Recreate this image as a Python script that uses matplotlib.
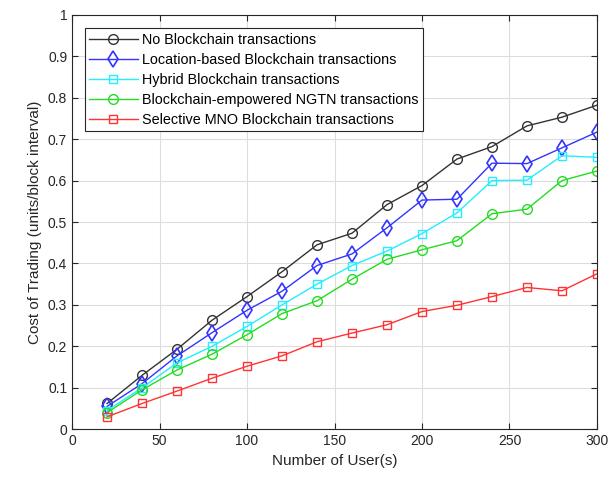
import matplotlib
matplotlib.use("Agg")
import matplotlib.pyplot as plt

plt.rcParams['font.family'] = ['Liberation Sans', 'DejaVu Sans']

users = [20, 40, 60, 80, 100, 120, 140, 160, 180, 200, 220, 240, 260, 280, 300]
no_bc = [0.062, 0.130, 0.193, 0.263, 0.320, 0.380, 0.445, 0.473, 0.542, 0.588,
         0.652, 0.682, 0.732, 0.753, 0.782]
location_bc = [0.055, 0.110, 0.177, 0.233, 0.287, 0.333, 0.395, 0.423, 0.486, 0.553,
               0.555, 0.642, 0.641, 0.679, 0.717]
hybrid_bc = [0.045, 0.100, 0.160, 0.200, 0.248, 0.300, 0.350, 0.395, 0.430, 0.472,
             0.522, 0.600, 0.601, 0.660, 0.656]
ngtn_bc = [0.040, 0.095, 0.143, 0.181, 0.228, 0.279, 0.310, 0.362, 0.410, 0.433,
           0.455, 0.520, 0.531, 0.600, 0.623]
mno_bc = [0.030, 0.062, 0.092, 0.123, 0.152, 0.177, 0.211, 0.232, 0.252, 0.284,
          0.299, 0.320, 0.342, 0.334, 0.375]

fig = plt.figure(figsize=(6.11, 4.79), dpi=100)
ax = fig.add_axes([0.118, 0.104, 0.859, 0.865])

ax.plot(users, no_bc, color='#333333', marker='o', ms=7, mfc='none', mew=1.0, lw=1.0,
        label='No Blockchain transactions')
ax.plot(users, location_bc, color='#3333ff', marker='d', ms=8, mfc='none', mew=1.2, lw=1.0,
        label='Location-based Blockchain transactions')
ax.plot(users, hybrid_bc, color='#22eeff', marker='s', ms=6, mfc='none', mew=1.0, lw=1.0,
        label='Hybrid Blockchain transactions')
ax.plot(users, ngtn_bc, color='#22dd22', marker='o', ms=7, mfc='none', mew=1.0, lw=1.0,
        label='Blockchain-empowered NGTN transactions')
ax.plot(users, mno_bc, color='#ff3333', marker='s', ms=6, mfc='none', mew=1.0, lw=1.0,
        label='Selective MNO Blockchain transactions')

ax.set_xlim(0, 300)
ax.set_ylim(0, 1)
ax.set_xticks(range(0, 301, 50))
ax.set_yticks([i / 10 for i in range(11)])
ax.set_yticklabels(['0', '0.1', '0.2', '0.3', '0.4', '0.5', '0.6', '0.7', '0.8', '0.9', '1'])
ax.grid(True, color='#dddddd', lw=0.8)
ax.tick_params(direction='in', top=True, right=True, labelsize=10, colors='#262626', length=4)
for s in ax.spines.values():
    s.set_color('#262626')
    s.set_linewidth(0.8)

ax.set_xlabel('Number of User(s)', fontsize=11, color='#262626')
ax.set_ylabel('Cost of Trading (units/block interval)', fontsize=11, color='#262626')

leg = ax.legend(loc='upper left', bbox_to_anchor=(0.01, 0.985), fontsize=10.4,
                fancybox=False, framealpha=1, edgecolor='#262626', handlelength=3.4,
                borderpad=0.3, labelspacing=0.42, handletextpad=0.3)
leg.get_frame().set_linewidth(0.8)

fig.savefig('out.png', dpi=100)
